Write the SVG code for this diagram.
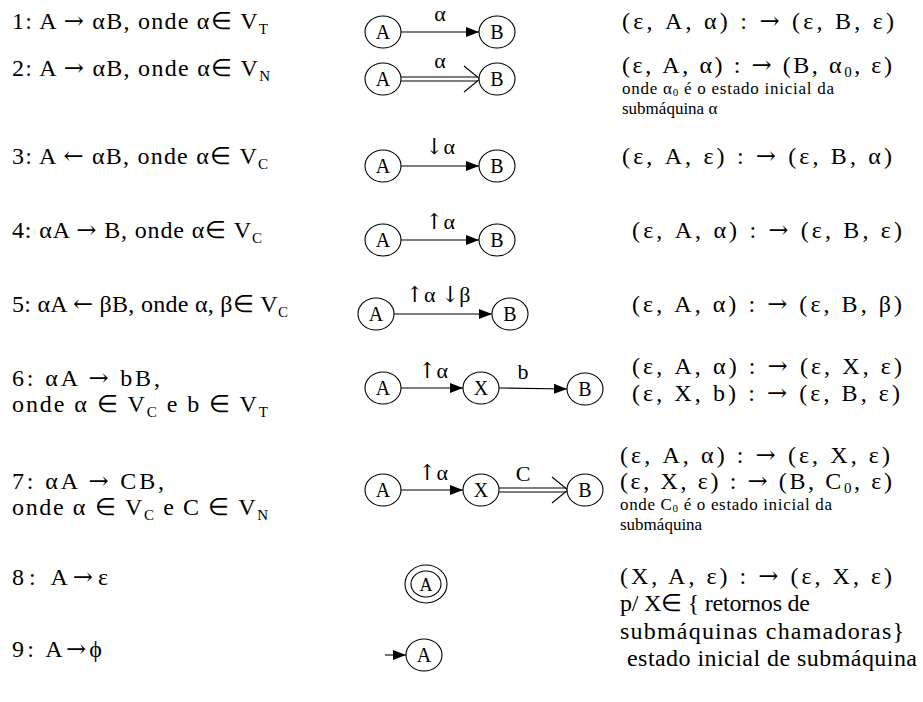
<svg xmlns="http://www.w3.org/2000/svg" width="923" height="702" viewBox="0 0 923 702">
<style>
text{font-family:"Liberation Serif","Times New Roman",serif;fill:#000}
.a{font-family:"DejaVu Serif",serif}
.l{font-size:24px}
.r{font-size:24px}
.s{font-size:17px}
.n{font-size:20px;text-anchor:middle}
.lab{font-size:22px;text-anchor:middle}
.sub{font-size:15px}
.ss{font-size:11px}
ellipse{fill:#fff;stroke:#000;stroke-width:1.1}
.e line,.e path{stroke:#000;stroke-width:1.1;fill:none}
</style>
<defs>
<marker id="ah" markerWidth="13" markerHeight="10" refX="13" refY="5" orient="auto" markerUnits="userSpaceOnUse"><path d="M0,0 L13,5 L0,10 z" fill="#000"/></marker>
</defs>
<rect width="923" height="702" fill="#fff"/>

<g id="left">
<text class="l" x="12" y="29" textLength="256" lengthAdjust="spacing">1: A <tspan class="a">→</tspan> αB, onde α∈ V<tspan class="sub" dy="5">T</tspan></text>
<text class="l" x="12" y="76" textLength="258" lengthAdjust="spacing">2: A <tspan class="a">→</tspan> αB, onde α∈ V<tspan class="sub" dy="5">N</tspan></text>
<text class="l" x="12" y="164" textLength="256" lengthAdjust="spacing">3: A <tspan class="a">←</tspan> αB, onde α∈ V<tspan class="sub" dy="5">C</tspan></text>
<text class="l" x="12" y="238" textLength="250" lengthAdjust="spacing">4: αA <tspan class="a">→</tspan> B, onde α∈ V<tspan class="sub" dy="5">C</tspan></text>
<text class="l" x="12" y="312" textLength="276" lengthAdjust="spacing">5: αA <tspan class="a">←</tspan> βB, onde α, β∈ V<tspan class="sub" dy="5">C</tspan></text>
<text class="l" x="12" y="386" textLength="148" lengthAdjust="spacing">6: αA <tspan class="a">→</tspan> bB,</text>
<text class="l" x="12" y="412" textLength="256" lengthAdjust="spacing">onde α ∈ V<tspan class="sub" dy="5">C</tspan><tspan dy="-5"> e b ∈ V</tspan><tspan class="sub" dy="5">T</tspan></text>
<text class="l" x="12" y="489" textLength="152" lengthAdjust="spacing">7: αA <tspan class="a">→</tspan> CB,</text>
<text class="l" x="12" y="515" textLength="256" lengthAdjust="spacing">onde α ∈ V<tspan class="sub" dy="5">C</tspan><tspan dy="-5"> e C ∈ V</tspan><tspan class="sub" dy="5">N</tspan></text>
<text class="l" x="12" y="585" textLength="96" lengthAdjust="spacing">8:  A<tspan class="a">→</tspan>ε</text>
<text class="l" x="12" y="657" textLength="90" lengthAdjust="spacing">9: A<tspan class="a">→</tspan>ϕ</text>
</g>

<g id="connectors" class="e">
<line x1="401" y1="32" x2="479" y2="32" marker-end="url(#ah)"/>
<line x1="401" y1="77" x2="477" y2="77"/><line x1="401" y1="81" x2="477" y2="81"/>
<path d="M464,66 L480,79 L464,92"/>
<line x1="401" y1="166" x2="479" y2="166" marker-end="url(#ah)"/>
<line x1="401" y1="240" x2="479" y2="240" marker-end="url(#ah)"/>
<line x1="394" y1="314" x2="492" y2="314" marker-end="url(#ah)"/>
<line x1="401" y1="388" x2="463" y2="388" marker-end="url(#ah)"/>
<line x1="499" y1="388" x2="567" y2="389" marker-end="url(#ah)"/>
<line x1="401" y1="490" x2="463" y2="490" marker-end="url(#ah)"/>
<line x1="499" y1="488" x2="566" y2="488"/><line x1="499" y1="492" x2="566" y2="492"/>
<path d="M552,477 L568,490 L552,503"/>
<line x1="385" y1="655" x2="406" y2="655" marker-end="url(#ah)"/>
<text class="lab" x="440" y="21">α</text>
<text class="lab" x="440" y="68">α</text>
<text class="lab" x="440" y="154"><tspan class="a">↓</tspan>α</text>
<text class="lab" x="440" y="229"><tspan class="a">↑</tspan>α</text>
<text class="lab" x="438" y="302"><tspan class="a">↑</tspan>α <tspan class="a">↓</tspan>β</text>
<text class="lab" x="433" y="378"><tspan class="a">↑</tspan>α</text>
<text class="lab" x="523" y="379">b</text>
<text class="lab" x="433" y="480"><tspan class="a">↑</tspan>α</text>
<text class="lab" x="523" y="481">C</text>
</g>

<g id="r1A"><ellipse cx="383" cy="32" rx="18" ry="16"/><text class="n" x="383" y="39">A</text></g>
<g id="r1B"><ellipse cx="497" cy="32" rx="18" ry="16"/><text class="n" x="497" y="39">B</text></g>
<g id="r2A"><ellipse cx="383" cy="79" rx="18" ry="16"/><text class="n" x="383" y="86">A</text></g>
<g id="r2B"><ellipse cx="497" cy="79" rx="18" ry="16"/><text class="n" x="497" y="86">B</text></g>
<g id="r3A"><ellipse cx="383" cy="166" rx="18" ry="16"/><text class="n" x="383" y="173">A</text></g>
<g id="r3B"><ellipse cx="497" cy="166" rx="18" ry="16"/><text class="n" x="497" y="173">B</text></g>
<g id="r4A"><ellipse cx="383" cy="240" rx="18" ry="16"/><text class="n" x="383" y="247">A</text></g>
<g id="r4B"><ellipse cx="497" cy="240" rx="18" ry="16"/><text class="n" x="497" y="247">B</text></g>
<g id="r5A"><ellipse cx="376" cy="314" rx="18" ry="16"/><text class="n" x="376" y="321">A</text></g>
<g id="r5B"><ellipse cx="510" cy="314" rx="18" ry="16"/><text class="n" x="510" y="321">B</text></g>
<g id="r6A"><ellipse cx="383" cy="388" rx="18" ry="16"/><text class="n" x="383" y="395">A</text></g>
<g id="r6X"><ellipse cx="481" cy="388" rx="18" ry="16"/><text class="n" x="481" y="395">X</text></g>
<g id="r6B"><ellipse cx="585" cy="389" rx="18" ry="16"/><text class="n" x="585" y="396">B</text></g>
<g id="r7A"><ellipse cx="383" cy="490" rx="18" ry="16"/><text class="n" x="383" y="497">A</text></g>
<g id="r7X"><ellipse cx="481" cy="490" rx="18" ry="16"/><text class="n" x="481" y="497">X</text></g>
<g id="r7B"><ellipse cx="585" cy="490" rx="18" ry="16"/><text class="n" x="585" y="497">B</text></g>
<g id="r8A"><ellipse cx="426" cy="584" rx="21" ry="19"/><ellipse cx="426" cy="584" rx="15" ry="13"/><text class="n" x="426" y="591" style="font-size:18px">A</text></g>
<g id="r9A"><ellipse cx="424" cy="655" rx="18" ry="16"/><text class="n" x="424" y="662">A</text></g>

<g id="right">
<text class="r" x="622" y="29" textLength="272" lengthAdjust="spacing">(ε, A, α) : <tspan class="a">→</tspan> (ε, B, ε)</text>
<text class="r" x="622" y="73" textLength="270" lengthAdjust="spacing">(ε, A, α) : <tspan class="a">→</tspan> (B, α<tspan class="sub" dy="4">0</tspan><tspan dy="-4">, ε)</tspan></text>
<text class="s" x="622" y="94" textLength="212" lengthAdjust="spacing">onde α<tspan class="ss" dy="2">0</tspan><tspan dy="-2"> é o estado inicial da</tspan></text>
<text class="s" x="622" y="114">submáquina α</text>
<text class="r" x="622" y="164" textLength="270" lengthAdjust="spacing">(ε, A, ε) : <tspan class="a">→</tspan> (ε, B, α)</text>
<text class="r" x="632" y="238" textLength="270" lengthAdjust="spacing">(ε, A, α) : <tspan class="a">→</tspan> (ε, B, ε)</text>
<text class="r" x="632" y="312" textLength="270" lengthAdjust="spacing">(ε, A, α) : <tspan class="a">→</tspan> (ε, B, β)</text>
<text class="r" x="632" y="374" textLength="270" lengthAdjust="spacing">(ε, A, α) : <tspan class="a">→</tspan> (ε, X, ε)</text>
<text class="r" x="632" y="401" textLength="268" lengthAdjust="spacing">(ε, X, b) : <tspan class="a">→</tspan> (ε, B, ε)</text>
<text class="r" x="620" y="463" textLength="270" lengthAdjust="spacing">(ε, A, α) : <tspan class="a">→</tspan> (ε, X, ε)</text>
<text class="r" x="620" y="489" textLength="272" lengthAdjust="spacing">(ε, X, ε) : <tspan class="a">→</tspan> (B, C<tspan class="sub" dy="4">0</tspan><tspan dy="-4">, ε)</tspan></text>
<text class="s" x="620" y="510" textLength="212" lengthAdjust="spacing">onde C<tspan class="ss" dy="2">0</tspan><tspan dy="-2"> é o estado inicial da</tspan></text>
<text class="s" x="620" y="530">submáquina</text>
<text class="r" x="620" y="584" textLength="272" lengthAdjust="spacing">(X, A, ε) : <tspan class="a">→</tspan> (ε, X, ε)</text>
<text class="r" x="620" y="611" textLength="190" lengthAdjust="spacing">p/ X∈ { retornos de</text>
<text class="r" x="620" y="639" textLength="284" lengthAdjust="spacing">submáquinas chamadoras}</text>
<text class="r" x="627" y="666" textLength="290" lengthAdjust="spacing">estado inicial de submáquina</text>
</g>
</svg>
